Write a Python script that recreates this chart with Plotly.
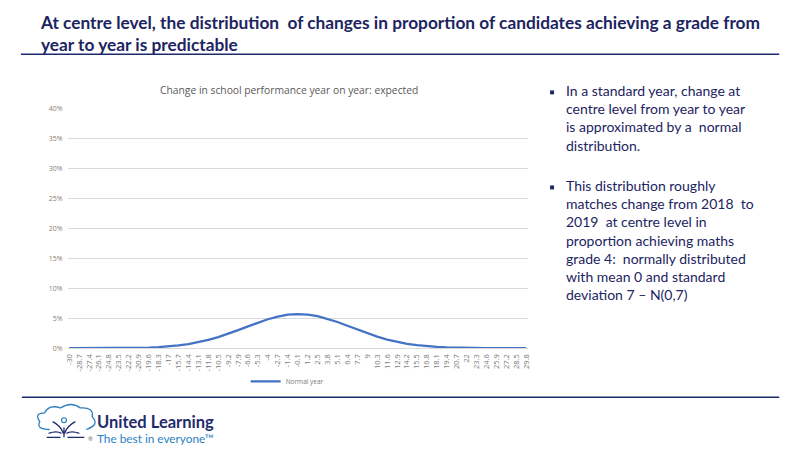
import plotly.graph_objects as go

# ---------------- data ----------------
change = [-30, -28.7, -27.4, -26.1, -24.8, -23.5, -22.2, -20.9, -19.6, -18.3,
          -17, -15.7, -14.4, -13.1, -11.8, -10.5, -9.2, -7.9, -6.6, -5.3,
          -4, -2.7, -1.4, -0.1, 1.2, 2.5, 3.8, 5.1, 6.4, 7.7,
          9, 10.3, 11.6, 12.9, 14.2, 15.5, 16.8, 18.1, 19.4, 20.7,
          22, 23.3, 24.6, 25.9, 27.2, 28.5, 29.8]
normal_year = [0.0000, 0.0000, 0.0000, 0.0000, 0.0001, 0.0002, 0.0004, 0.0007, 0.0011, 0.0019,
               0.0030, 0.0046, 0.0069, 0.0099, 0.0138, 0.0185, 0.0240, 0.0301, 0.0365, 0.0428,
               0.0484, 0.0529, 0.0559, 0.0570, 0.0562, 0.0535, 0.0492, 0.0437, 0.0375, 0.0311,
               0.0249, 0.0193, 0.0144, 0.0104, 0.0073, 0.0049, 0.0032, 0.0020, 0.0012, 0.0007,
               0.0004, 0.0002, 0.0001, 0.0000, 0.0000, 0.0000, 0.0000]
tick_labels = [str(v) for v in change]
y_ticks = [0, 0.05, 0.10, 0.15, 0.20, 0.25, 0.30, 0.35, 0.40]

series_name = "Normal year"
chart_title = "Change in school performance year on year: expected"
slide_title = ("At centre level, the distribution  of changes in proportion of candidates achieving a grade from"
               "<br>year to year is predictable")
bullet1 = ["In a standard year, change at", "centre level from year to year",
           "is approximated by a  normal", "distribution."]
bullet2 = ["This distribution roughly", "matches change from 2018  to",
           "2019  at centre level in", "proportion achieving maths",
           "grade 4:  normally distributed", "with mean 0 and standard",
           "deviation 7 \u2013 N(0,7)"]
logo_name = "United Learning"
logo_tagline = "The best in everyone\u2122"

W, H = 800, 450
OFF = 8  # page offset of the figure (body margin)
NAVY = "#1c2461"
TXT = "Lato, 'Open Sans', sans-serif"
SANS = "'Open Sans', sans-serif"


def px(x, y):
    """page pixel -> paper coordinates"""
    return (x - OFF) / W, 1 - (y - OFF) / H


fig = go.Figure()
fig.add_trace(go.Scatter(x=change, y=normal_year, mode="lines", name=series_name,
                         line=dict(color="#4472C4", width=2.25), showlegend=True))

x0d, _ = px(64, 0)
x1d, _ = px(528, 0)
_, y0d = px(0, 350)
_, y1d = px(0, 106)
lgx, lgy = px(243, 384)

fig.update_layout(
    width=W, height=H, margin=dict(l=0, r=0, t=0, b=0),
    paper_bgcolor="white", plot_bgcolor="white",
    xaxis=dict(domain=[x0d, x1d], range=[-30.1, 30.0],
               tickvals=change, ticktext=tick_labels, tickangle=-90,
               tickfont=dict(size=7.5, color="#7a7a7a", family=SANS),
               showgrid=False, zeroline=False, showline=True, linecolor="#d9d9d9",
               ticks="", ticklabelstandoff=2),
    yaxis=dict(domain=[y0d, y1d], range=[0, 0.4],
               tickvals=y_ticks, tickformat=".0%",
               tickfont=dict(size=7, color="#8a7d74", family=SANS),
               showgrid=True, gridcolor="#d9d9d9", gridwidth=1, zeroline=False,
               showline=False, ticks="", ticklabelstandoff=5),
    legend=dict(orientation="h", x=lgx, y=lgy, xanchor="left", yanchor="middle",
                font=dict(size=6.5, color="#7a7a7a", family=SANS),
                itemwidth=30, bgcolor="rgba(0,0,0,0)"),
)

annotations = []
# slide title
tx, ty = px(33, 28.5)
annotations.append(dict(x=tx, y=ty, xref="paper", yref="paper", xanchor="left", yanchor="middle",
                        align="left", showarrow=False, text=slide_title,
                        font=dict(family=TXT, size=17.3, color=NAVY, weight="bold")))
# chart title
cx, cy = px(287, 87)
annotations.append(dict(x=cx, y=cy, xref="paper", yref="paper", xanchor="center", yanchor="middle",
                        showarrow=False, text=chart_title,
                        font=dict(family=SANS, size=10.3, color="#595959")))
# bullets
for lines, ymid in [(bullet1, 115), (bullet2, 239.5)]:
    bx, by = px(565, ymid)
    annotations.append(dict(x=bx, y=by, xref="paper", yref="paper", xanchor="left", yanchor="middle",
                            align="left", showarrow=False, text="<br>".join(lines),
                            font=dict(family=TXT, size=14, color=NAVY)))
# logo text (one block: name + tagline)
logo_text = ("<b><span style='font-size:16.5px;color:#1f2a6b'>" + logo_name + "</span></b>"
             "<br>" + logo_tagline)
lx, ly = px(91, 432)
annotations.append(dict(x=lx, y=ly, xref="paper", yref="paper", xanchor="left", yanchor="middle",
                        align="left", showarrow=False, text=logo_text,
                        font=dict(family=TXT, size=11.8, color="#2b7fc0")))
rx, ry = px(86, 442)
annotations.append(dict(x=rx, y=ry, xref="paper", yref="paper", xanchor="center", yanchor="middle",
                        showarrow=False, text="\u00ae", font=dict(family=TXT, size=6, color="#666666")))
fig.update_layout(annotations=annotations)

shapes = []
# horizontal rules
for (xa, xb, yy) in [(16, 782, 50), (17, 782, 400)]:
    a0, b0 = px(xa, yy)
    a1, b1 = px(xb, yy)
    shapes.append(dict(type="line", xref="paper", yref="paper", x0=a0, y0=b0, x1=a1, y1=b1,
                       line=dict(color="#1c2a6b", width=1.5)))
# bullet squares
for yy in [89, 186]:
    a0, b0 = px(550.5, yy - 2)
    a1, b1 = px(554.5, yy + 2)
    shapes.append(dict(type="rect", xref="paper", yref="paper", x0=a0, y0=b0, x1=a1, y1=b1,
                       fillcolor=NAVY, line=dict(width=0)))


def path_from(points_cmds):
    out = []
    for cmd, pts in points_cmds:
        coords = " ".join("%.5f,%.5f" % px(x, y) for x, y in pts)
        out.append(cmd + " " + coords)
    return " ".join(out)


# logo cloud outline
cloud = path_from([
    ("M", [(45, 433)]),
    ("Q", [(31, 433), (35, 425)]),
    ("Q", [(29, 416), (40, 416)]),
    ("Q", [(44, 407), (56, 411)]),
    ("Q", [(67, 404), (76, 411)]),
    ("Q", [(90, 410), (88, 420)]),
    ("Q", [(96, 428), (82, 433)]),
])
shapes.append(dict(type="path", xref="paper", yref="paper", path=cloud,
                   line=dict(color="#2b7fc0", width=1.3)))
fig_path = path_from([
    ("M", [(48, 425)]), ("Q", [(56, 429), (59, 437)]),
    ("M", [(71, 425)]), ("Q", [(63, 429), (60, 437)]),
    ("M", [(59.5, 431)]), ("L", [(59.5, 441)]),
    ("M", [(44, 437)]), ("Q", [(52, 434), (57, 437)]),
    ("M", [(75, 437)]), ("Q", [(67, 434), (62, 437)]),
    ("M", [(42, 441)]), ("L", [(56, 441)]),
    ("M", [(63, 441)]), ("L", [(80, 441)]),
])
shapes.append(dict(type="path", xref="paper", yref="paper", path=fig_path,
                   line=dict(color="#1f2a6b", width=1.3)))
h0 = px(57, 421)
h1 = px(62, 426)
shapes.append(dict(type="circle", xref="paper", yref="paper", x0=h0[0], y0=h0[1], x1=h1[0], y1=h1[1],
                   line=dict(color="#2b7fc0", width=1.2)))
fig.update_layout(shapes=shapes)

fig.write_html("out.html")
